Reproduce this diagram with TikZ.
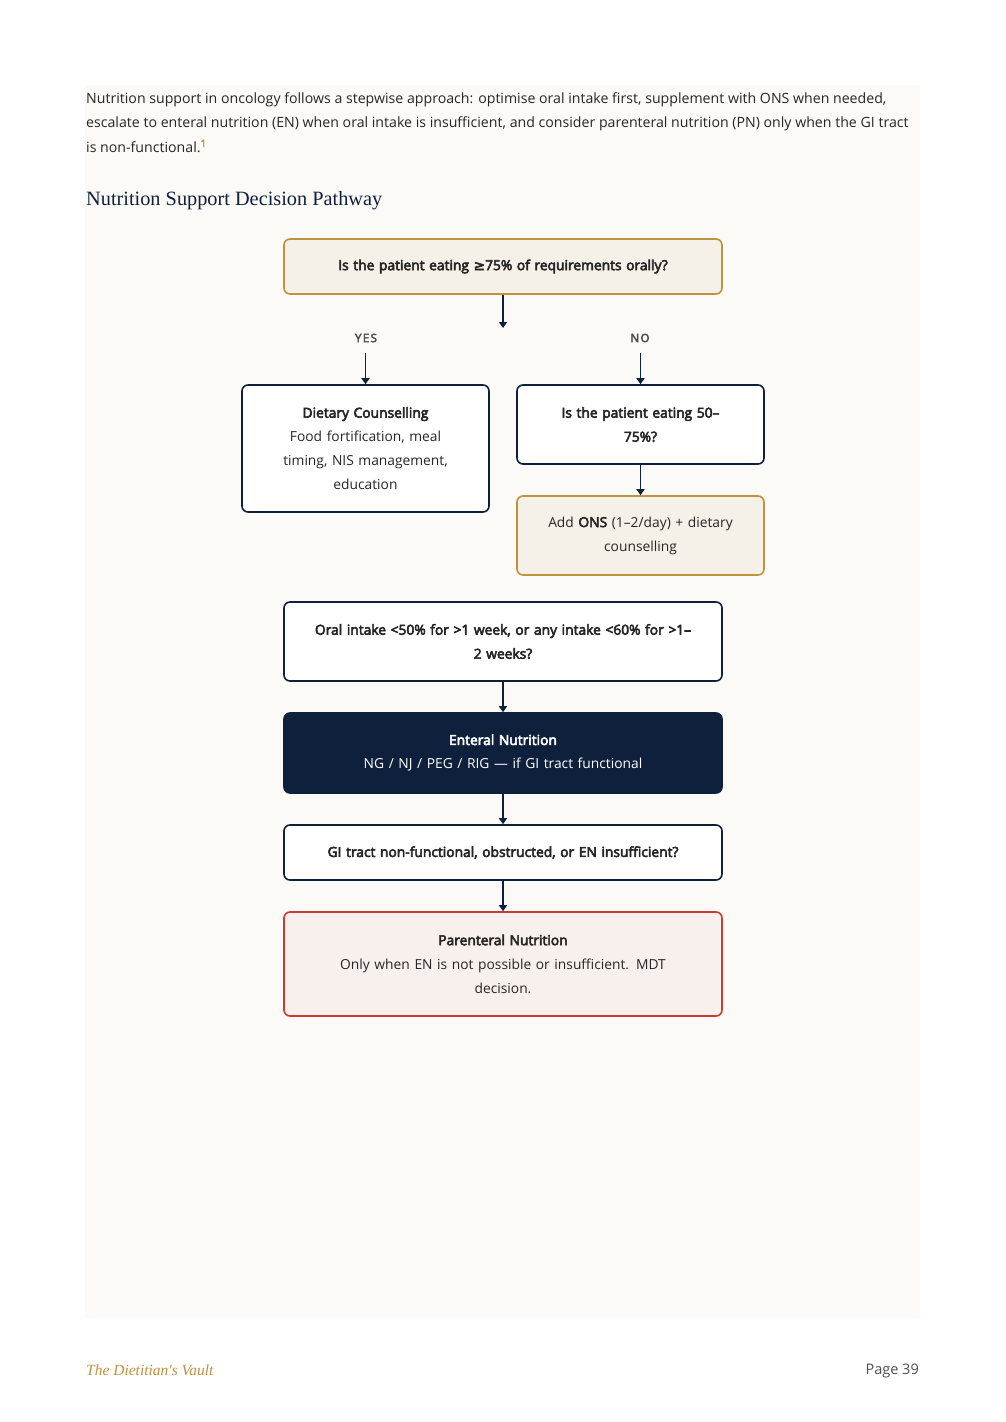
\documentclass[tikz,border=0pt]{standalone}
\usepackage{fontspec}
\setmainfont{Open Sans}
\newfontfamily\semib{Open Sans}[FakeBold=4]
\newfontfamily\headserif{Liberation Serif}
\newfontfamily\symfont{DejaVu Sans}
\usetikzlibrary{arrows.meta}
\definecolor{panel}{HTML}{FBFAF7}
\definecolor{navy}{HTML}{0F203C}
\definecolor{gold}{HTML}{C0913F}
\definecolor{creamfill}{HTML}{F5F0E8}
\definecolor{redline}{HTML}{C93A30}
\definecolor{redfill}{HTML}{F8F0EC}
\definecolor{bodytext}{HTML}{262626}
\definecolor{labelgray}{HTML}{4F4F4F}
\tikzset{
  box/.style={draw=navy, line width=1.6pt, rounded corners=6pt, fill=white, align=center,
    font=\fontsize{13.8}{24}\selectfont, text=bodytext, inner sep=0pt},
  widebox/.style={box, minimum width=438pt, text width=428pt},
  narrowbox/.style={box, minimum width=247pt, text width=242pt},
  goldbox/.style={draw=gold, fill=creamfill},
  redbox/.style={draw=redline, fill=redfill},
  darkbox/.style={draw=navy, fill=navy, text=white},
  flow/.style={draw=navy, line width=1.6pt, -{Triangle[length=6pt,width=8pt]}},
  branchlabel/.style={font=\semib\fontsize{11.5}{13}\selectfont\addfontfeatures{LetterSpace=12}, text=labelgray, inner sep=0pt}
}
\begin{document}
\begin{tikzpicture}[x=1pt,y=-1pt]
\useasboundingbox (0,0) rectangle (1005,1422);
\fill[white] (0,0) rectangle (1005,1422);
\fill[panel] (85,85) rectangle (920,1318);
% intro
\node[anchor=north west, inner sep=0pt, align=left, text=bodytext,
  font=\fontsize{14.15}{24.5}\selectfont] (intro) at (86,92)
  {Nutrition support in oncology follows a stepwise approach: optimise oral intake first, supplement with ONS when needed,\\
   escalate to enteral nutrition (EN) when oral intake is insufficient, and consider parenteral nutrition (PN) only when the GI tract\\
   is non-functional.\textsuperscript{\textcolor{gold}{\semib 1}}};
\node[anchor=west, inner sep=0pt, text=navy, font=\headserif\fontsize{20.3}{22}\selectfont] (head) at (86,201)
  {Nutrition Support Decision Pathway};
% boxes
\node[widebox, goldbox, minimum height=55pt] (q1) at (503,266.5) {\semib Is the patient eating {\symfont\addfontfeatures{FakeBold=4}≥}75\% of requirements orally?};
\coordinate (split) at (503,328);
\node[branchlabel] (yes) at (366,338) {YES};
\node[branchlabel] (no) at (640,338) {NO};
\coordinate (yesfoot) at (365.5,353);
\coordinate (nofoot) at (640.5,353);
\node[narrowbox, minimum height=127pt] (diet) at (365.5,448.5)
  {{\semib Dietary Counselling}\\Food fortification, meal\\timing, NIS management,\\education};
\node[narrowbox, minimum height=79pt] (q2) at (640.5,424.5) {\semib Is the patient eating 50–\\75\%?};
\node[narrowbox, goldbox, minimum height=79pt] (ons) at (640.5,535.5) {Add {\semib ONS} (1–2/day) + dietary\\counselling};
\node[widebox, minimum height=79pt] (q3) at (503,641.5) {\semib Oral intake <50\% for >1 week, or any intake <60\% for >1–\\2 weeks?};
\node[widebox, darkbox, minimum height=80pt] (en) at (503,753) {{\semib Enteral Nutrition}\\NG / NJ / PEG / RIG — if GI tract functional};
\node[widebox, minimum height=55pt] (q4) at (503,852.5) {\semib GI tract non-functional, obstructed, or EN insufficient?};
\node[widebox, redbox, minimum height=104pt] (pn) at (503,964) {{\semib Parenteral Nutrition}\\Only when EN is not possible or insufficient. MDT\\decision.};
% connectors
\draw[flow] (q1.south) -- (split);
\draw[flow] (yesfoot) -- (diet.north);
\draw[flow] (nofoot) -- (q2.north);
\draw[flow] (q2.south) -- (ons.north);
\draw[flow] (q3.south) -- (en.north);
\draw[flow] (en.south) -- (q4.north);
\draw[flow] (q4.south) -- (pn.north);
% footer
\node[anchor=west, inner sep=0pt, text=gold, font=\headserif\itshape\fontsize{15.5}{18}\selectfont] (brand) at (86,1370) {The Dietitian's Vault};
\node[anchor=east, inner sep=0pt, text=labelgray, font=\fontsize{14.5}{17}\selectfont] (page) at (919,1371) {Page 39};
\end{tikzpicture}
\end{document}
